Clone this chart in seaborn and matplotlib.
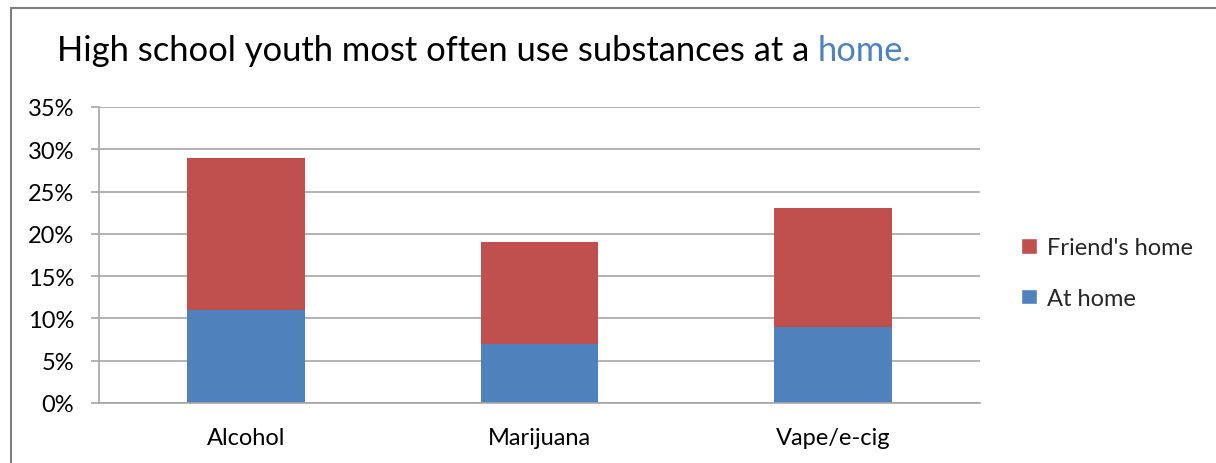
import matplotlib
matplotlib.use("Agg")
import matplotlib.pyplot as plt
import seaborn as sns
import pandas as pd
import numpy as np
from matplotlib.patches import Rectangle, Patch
from matplotlib.ticker import FuncFormatter, FixedLocator

categories = ["Alcohol", "Marijuana", "Vape/e-cig"]
at_home = [11, 7, 9]
friends_home = [18, 12, 14]
yticks = [0, 5, 10, 15, 20, 25, 30, 35]

BLUE = "#4F81BD"
RED = "#C0504D"
GRID = "#A6A6A6"

sns.set_theme(style="white")
plt.rcParams['font.family'] = ['Lato', 'DejaVu Sans']

df = pd.DataFrame({
    "category": categories,
    "at_home": at_home,
    "total": [a + f for a, f in zip(at_home, friends_home)],
})

fig = plt.figure(figsize=(12.16, 4.64), dpi=100)
W, H = 1216, 464
ax = fig.add_axes([99 / W, 1 - 404 / H, (980 - 99) / W, (404 - 108) / H])

sns.barplot(data=df, x="category", y="total", color=RED, saturation=1,
            width=0.4, ax=ax, linewidth=0)
sns.barplot(data=df, x="category", y="at_home", color=BLUE, saturation=1,
            width=0.4, ax=ax, linewidth=0)
if ax.get_legend() is not None:
    ax.get_legend().remove()

ax.set_xlim(-0.5, 2.5)
ax.set_ylim(0, 35)
ax.set_yticks(yticks)
ax.yaxis.set_major_formatter(FuncFormatter(lambda v, p: f"{int(v)}%"))
ax.grid(axis="y", color=GRID, linewidth=1.2)
ax.set_axisbelow(True)
for s in ["top", "right"]:
    ax.spines[s].set_visible(False)
for s in ["left", "bottom"]:
    ax.spines[s].set_color(GRID)
    ax.spines[s].set_linewidth(1.2)
ax.set_xlabel("")
ax.set_ylabel("")
FS = 17
ax.tick_params(axis="x", which="major", length=0, pad=17, labelsize=FS, colors="black")
ax.xaxis.set_minor_locator(FixedLocator([-0.5, 0.5, 1.5, 2.5]))
ax.tick_params(axis="x", which="minor", length=6, width=1.2, color=GRID, direction="out")
ax.tick_params(axis="y", length=6, width=1.2, color=GRID, direction="out", pad=12,
               labelsize=FS, labelcolor="black", left=True)

handles = [Patch(facecolor=RED, label="Friend's home"), Patch(facecolor=BLUE, label="At home")]
fig.legend(handles=handles, loc="center left", bbox_to_anchor=(1012 / W, 1 - 274 / H),
           frameon=False, fontsize=FS, handlelength=0.65, handleheight=0.65,
           handletextpad=0.45, labelspacing=1.25, borderaxespad=0)

# outer chart border
fig.patches.append(Rectangle((11 / W, -0.05), 1.2, 1 - 9 / H + 0.05, transform=fig.transFigure,
                             fill=False, edgecolor="#7F7F7F", linewidth=1.5))

# title with blue last word
TS = 24.8
t1 = fig.text(57 / W, 1 - 61 / H, "High school youth most often use substances at a ",
              fontsize=TS, color="black", va="baseline", ha="left")
fig.canvas.draw()
bb = t1.get_window_extent(renderer=fig.canvas.get_renderer())
x_end = bb.x1 / fig.bbox.width
fig.text(x_end, 1 - 61 / H, "home.", fontsize=TS, color=BLUE, va="baseline", ha="left")

fig.savefig("out.png", dpi=100)
